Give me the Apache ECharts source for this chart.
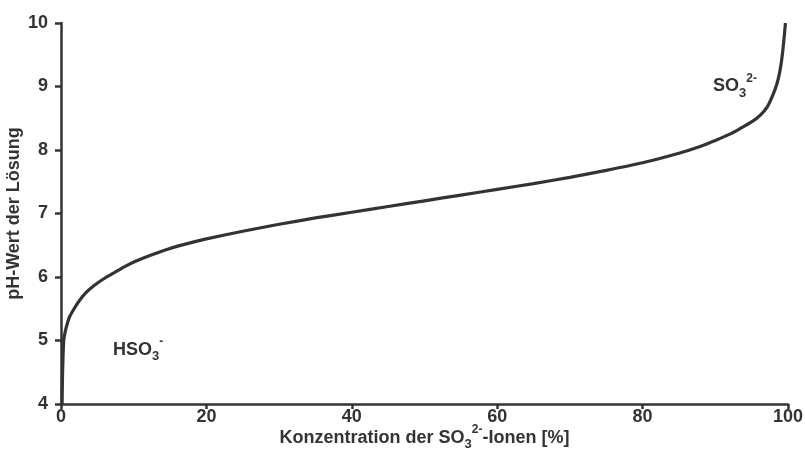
<!DOCTYPE html>
<html>
<head>
<meta charset="utf-8">
<script src="https://cdn.jsdelivr.net/npm/echarts@6/dist/echarts.min.js"></script>
<style>
  html, body { margin: 0; padding: 0; background: #fff; }
  #chart { width: 805px; height: 459px; }
</style>
</head>
<body>
<div id="chart"></div>
<script>
// Anteil der SO3(2-)-Ionen in Prozent
var concentration = [0.15, 0.2, 0.28, 0.38, 0.6, 0.85, 1.17, 1.8, 2.54, 3.5, 4.6, 6, 7.35, 8.7, 10.1,
  12.5, 15, 17.5, 20, 25, 30, 35, 40, 45, 50, 55, 60, 65, 70, 75, 80, 85, 88, 90, 92, 93.3,
  95.1, 96.2, 97.15, 97.9, 98.5, 98.9, 99.2, 99.45, 99.65];
// pH-Wert der Lösung
var phValue = [4.0, 4.4, 4.75, 5.0, 5.15, 5.26, 5.37, 5.5, 5.63, 5.76, 5.87, 5.98, 6.07, 6.16, 6.24,
  6.35, 6.45, 6.53, 6.6, 6.72, 6.83, 6.93, 7.02, 7.11, 7.2, 7.29, 7.38, 7.47, 7.57, 7.68, 7.8, 7.95, 8.06, 8.15, 8.25, 8.33,
  8.45, 8.55, 8.68, 8.86, 9.05, 9.25, 9.48, 9.75, 10.0];

var xTicks = [0, 20, 40, 60, 80, 100];
var yTicks = [4, 5, 6, 7, 8, 9, 10];

// Beschriftung der Ionenformen
var speciesText = ['HSO{sub|3}{sup|-}', 'SO{sub|3}{sup|2-}'];
var speciesAt = [[10.6, 4.85], [92.7, 9.0]];

var INK = '#333333';
var FONT = '"Liberation Sans", Arial, sans-serif';
var SIZE = 18;

var richFormula = {
  sub: { fontSize: 13, fontWeight: 'bold', fontFamily: FONT, color: INK, lineHeight: 13, verticalAlign: 'bottom', padding: [0, 0, -3, 0] },
  sup: { fontSize: 12, fontWeight: 'bold', fontFamily: FONT, color: INK, lineHeight: 12, verticalAlign: 'top', padding: [-4, 0, 0, 0] }
};

var points = concentration.map(function (c, i) { return [c, phValue[i]]; });

var chart = echarts.init(document.getElementById('chart'), null, { renderer: 'canvas' });
chart.setOption({
  animation: false,
  backgroundColor: '#ffffff',
  textStyle: { fontFamily: FONT },
  grid: { left: 61, right: 17, top: 23, bottom: 55, containLabel: false, outerBoundsMode: 'none' },
  xAxis: {
    type: 'value',
    min: xTicks[0],
    max: xTicks[xTicks.length - 1],
    interval: 20,
    name: 'Konzentration der SO{sub|3}{sup|2-}-Ionen [%]',
    nameLocation: 'middle',
    nameGap: 24,
    nameMoveOverlap: false,
    nameTextStyle: {
      fontSize: SIZE, fontWeight: 'bold', color: INK, fontFamily: FONT, lineHeight: 20,
      rich: richFormula
    },
    axisLine: { show: true, lineStyle: { color: INK, width: 2.5 } },
    axisTick: { show: true, inside: false, length: 5, lineStyle: { color: INK, width: 2.5 } },
    axisLabel: { fontSize: SIZE, fontWeight: 'bold', color: INK, margin: 4, fontFamily: FONT },
    splitLine: { show: false }
  },
  yAxis: {
    type: 'value',
    min: yTicks[0],
    max: yTicks[yTicks.length - 1],
    interval: 1,
    name: 'pH-Wert der Lösung',
    nameLocation: 'middle',
    nameGap: 38,
    nameMoveOverlap: false,
    nameTextStyle: { fontSize: SIZE, fontWeight: 'bold', color: INK, fontFamily: FONT },
    axisLine: { show: true, lineStyle: { color: INK, width: 2.5 } },
    axisTick: { show: true, inside: false, length: 6, lineStyle: { color: INK, width: 2.5 } },
    axisLabel: { fontSize: SIZE, fontWeight: 'bold', color: INK, margin: 13, fontFamily: FONT },
    splitLine: { show: false }
  },
  series: [{
    type: 'line',
    data: points,
    showSymbol: false,
    smooth: 0.25,
    clip: false,
    lineStyle: { color: INK, width: 3.2 },
    markPoint: {
      symbol: 'circle',
      symbolSize: 0,
      silent: true,
      label: {
        show: true,
        position: 'inside',
        fontSize: SIZE, fontWeight: 'bold', color: INK, fontFamily: FONT, lineHeight: 20,
        rich: richFormula,
        formatter: function (p) { return p.name; }
      },
      data: speciesText.map(function (t, i) { return { name: t, coord: speciesAt[i] }; })
    }
  }]
});
</script>
</body>
</html>
